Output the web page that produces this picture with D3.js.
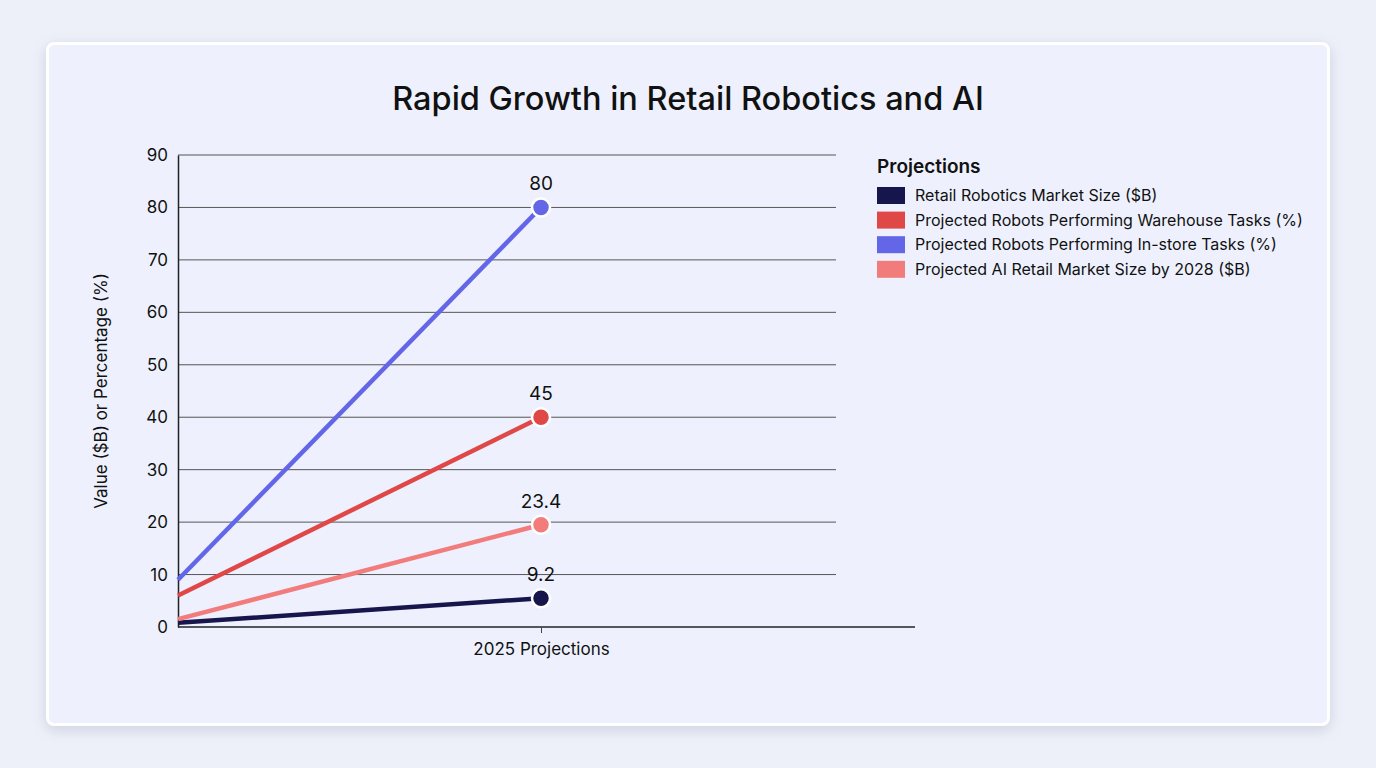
<!DOCTYPE html>
<html><head><meta charset="utf-8">
<script src="https://cdn.jsdelivr.net/npm/d3@7"></script>
<style>
html,body{margin:0;padding:0;background:#eef0f9;}
body{width:1376px;height:768px;overflow:hidden;font-family:Inter,"Noto Sans",sans-serif;}
#card{position:absolute;left:46px;top:42px;width:1278px;height:678px;background:#eef1fd;border:3px solid #fff;border-radius:8px;box-shadow:0 4px 14px rgba(60,70,120,0.18);}
svg{position:absolute;left:0;top:0;}
</style></head><body>
<div id="card"></div>
<svg id="chart" width="1376" height="768"></svg>
<script>
const seriesNames = ["Retail Robotics Market Size ($B)","Projected Robots Performing Warehouse Tasks (%)","Projected Robots Performing In-store Tasks (%)","Projected AI Retail Market Size by 2028 ($B)"];
const seriesColors = ["#16164d","#e04848","#6466e8","#f27b7b"];
const startValues = [0.8, 6, 9, 1.5];
const endValues = [5.5, 40, 80, 19.5];
const pointLabels = ["9.2","45","80","23.4"];
const categories = ["", "2025 Projections", " "];
const yTicks = [0,10,20,30,40,50,60,70,80,90];

(function(){
const svg = d3.select("#chart");
const pL = 178, pR = 904, pT = 155, pB = 627;
const x = d3.scalePoint().domain(categories).range([pL, pR]);
const y = d3.scaleLinear().domain([0, 90]).range([pB, pT]);

svg.append("text").attr("x", 688).attr("y", 110).attr("text-anchor","middle")
  .attr("font-size", 32.5).attr("font-weight", 500).attr("fill","#111").text("Rapid Growth in Retail Robotics and AI");

// grid
svg.append("g").selectAll("line").data(yTicks.filter(d=>d>0)).join("line")
  .attr("x1", pL).attr("x2", 836).attr("y1", d=>y(d)).attr("y2", d=>y(d))
  .attr("stroke","#555").attr("stroke-width",1);

// y axis
const yAxis = svg.append("g").attr("transform",`translate(${pL},0)`)
  .call(d3.axisLeft(y).tickValues(yTicks).tickSize(0).tickPadding(10));
yAxis.select(".domain").attr("stroke","#222").attr("stroke-width",1.5);
yAxis.selectAll("text").attr("font-size",17).attr("font-family","Inter,sans-serif").attr("fill","#111");

// x axis
const xAxis = svg.append("g").attr("transform",`translate(0,${pB})`)
  .call(d3.axisBottom(x).tickValues(["2025 Projections"]).tickSize(6).tickSizeOuter(0).tickPadding(10));
xAxis.select(".domain").attr("d", `M${pL},0H915`).attr("stroke","#222").attr("stroke-width",1.5);
xAxis.selectAll(".tick line").attr("stroke","#444");
xAxis.selectAll("text").attr("font-size",17).attr("font-family","Inter,sans-serif").attr("fill","#111");

svg.append("text").attr("transform",`translate(107,391) rotate(-90)`).attr("text-anchor","middle")
  .attr("font-size",17).attr("fill","#111").text("Value ($B) or Percentage (%)");

// lines
const data = seriesNames.map((n,i)=>({name:n,color:seriesColors[i],pts:[{c:categories[0],v:startValues[i]},{c:categories[1],v:endValues[i]}],label:pointLabels[i]}));
const line = d3.line().x(d=>x(d.c)).y(d=>y(d.v));
svg.append("g").selectAll("path").data(data).join("path")
  .attr("d", d=>line(d.pts)).attr("fill","none").attr("stroke",d=>d.color).attr("stroke-width",4.5);
svg.append("g").selectAll("circle").data(data).join("circle")
  .attr("cx", x(categories[1])).attr("cy", d=>y(d.pts[1].v)).attr("r",9)
  .attr("fill", d=>d.color).attr("stroke","#fff").attr("stroke-width",2.5);
svg.append("g").selectAll("text").data(data).join("text")
  .attr("x", x(categories[1])).attr("y", d=>y(d.pts[1].v)-17).attr("text-anchor","middle")
  .attr("font-size",19).attr("fill","#111").text(d=>d.label);

// legend
const lg = svg.append("g").attr("transform","translate(877,0)");
lg.append("text").attr("x",0).attr("y",173).attr("font-size",19).attr("font-weight",600).attr("fill","#111").text("Projections");
const rows = lg.selectAll("g.row").data(data).join("g").attr("class","row")
  .attr("transform",(d,i)=>`translate(0,${187 + i*24.6})`);
rows.append("rect").attr("width",28).attr("height",17).attr("fill",d=>d.color);
rows.append("text").attr("x",38).attr("y",14).attr("font-size",16).attr("fill","#111").text(d=>d.name);
})();
</script>
</body></html>
